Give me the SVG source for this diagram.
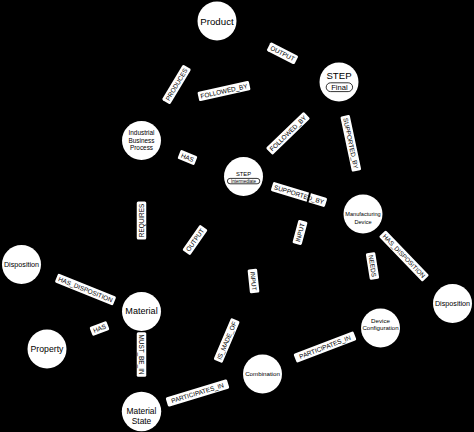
<svg xmlns="http://www.w3.org/2000/svg" width="474" height="432" viewBox="0 0 474 432">
<style>
.edge{stroke:#000;stroke-width:2;fill:none}
.lbl rect{fill:#fff;stroke:none}
.lbl text{font-family:"Liberation Sans",Arial,sans-serif;font-size:6.4px;fill:#000;text-anchor:middle}
.node circle{fill:#fff;stroke:none}
.node text{font-family:"Liberation Sans",Arial,sans-serif;fill:#000;text-anchor:middle}
.pill{fill:#fff;stroke:#000;stroke-width:0.8}
</style>
<rect width="474" height="432" fill="#000"/>
<g id="connectors">
<g id="edge-lines">
<line class="edge" x1="217" y1="21" x2="339" y2="82"/>
<line class="edge" x1="141.5" y1="140.5" x2="217" y2="21"/>
<path class="edge" d="M141.5,140.5 Q207.75,70.75 339,82"/>
<line class="edge" x1="243.5" y1="176.5" x2="339" y2="82"/>
<line class="edge" x1="339" y1="82" x2="363" y2="214"/>
<line class="edge" x1="141.5" y1="140.5" x2="243.5" y2="176.5"/>
<line class="edge" x1="243.5" y1="176.5" x2="363" y2="214"/>
<line class="edge" x1="141.5" y1="140.5" x2="141.5" y2="311.5"/>
<line class="edge" x1="243.5" y1="176.5" x2="141.5" y2="311.5"/>
<line class="edge" x1="262.5" y1="374" x2="243.5" y2="176.5"/>
<path class="edge" d="M262.5,374 Q251.4,338.25 141.5,311.5"/>
<line class="edge" x1="141.5" y1="411.5" x2="262.5" y2="374"/>
<line class="edge" x1="262.5" y1="374" x2="380.5" y2="328"/>
<line class="edge" x1="363" y1="214" x2="380.5" y2="328"/>
<line class="edge" x1="363" y1="214" x2="452.5" y2="303.5"/>
<line class="edge" x1="141.5" y1="311.5" x2="21.5" y2="264.5"/>
<line class="edge" x1="141.5" y1="311.5" x2="47" y2="349"/>
<line class="edge" x1="141.5" y1="311.5" x2="141.5" y2="411.5"/>
</g>
<g id="edge-labels">
<g class="lbl" transform="translate(282.5,53.3) rotate(27)"><rect x="-15.5" y="-4.75" width="31" height="9.5" rx="1.5"/><text y="2.3">OUTPUT</text></g>
<g class="lbl" transform="translate(176.5,84.5) rotate(-59)"><rect x="-20.5" y="-4.75" width="41" height="9.5" rx="1.5"/><text y="2.3">PRODUCES</text></g>
<g class="lbl" transform="translate(224,91) rotate(-12.6)"><rect x="-26.25" y="-4.75" width="52.5" height="9.5" rx="1.5"/><text y="2.3">FOLLOWED_BY</text></g>
<g class="lbl" transform="translate(288,133.3) rotate(-44)"><rect x="-26.25" y="-4.75" width="52.5" height="9.5" rx="1.5"/><text y="2.3">FOLLOWED_BY</text></g>
<g class="lbl" transform="translate(350.8,143.3) rotate(78)"><rect x="-28.2" y="-4.75" width="56.4" height="9.5" rx="1.5"/><text y="2.3">SUPPORTED_BY</text></g>
<g class="lbl" transform="translate(187.5,157.5) rotate(22)"><rect x="-9" y="-4.75" width="18" height="9.5" rx="1.5"/><text y="2.3">HAS</text></g>
<g class="lbl" transform="translate(299,194.5) rotate(17)"><rect x="-28.2" y="-4.75" width="56.4" height="9.5" rx="1.5"/><text y="2.3">SUPPORTED_BY</text></g>
<g class="lbl" transform="translate(141.5,220.5) rotate(-90)"><rect x="-19" y="-4.75" width="38" height="9.5" rx="1.5"/><text y="2.3">REQUIRES</text></g>
<g class="lbl" transform="translate(195,240) rotate(-55)"><rect x="-15.5" y="-4.75" width="31" height="9.5" rx="1.5"/><text y="2.3">OUTPUT</text></g>
<g class="lbl" transform="translate(253.5,281) rotate(84)"><rect x="-12" y="-4.75" width="24" height="9.5" rx="1.5"/><text y="2.3">INPUT</text></g>
<g class="lbl" transform="translate(226.7,340.5) rotate(-67)"><rect x="-22.6" y="-4.75" width="45.2" height="9.5" rx="1.5"/><text y="2.3">IS_MADE_OF</text></g>
<g class="lbl" transform="translate(197.5,393) rotate(-17)"><rect x="-32" y="-4.75" width="64" height="9.5" rx="1.5"/><text y="2.3">PARTICIPATES_IN</text></g>
<g class="lbl" transform="translate(325,347) rotate(-21)"><rect x="-32" y="-4.75" width="64" height="9.5" rx="1.5"/><text y="2.3">PARTICIPATES_IN</text></g>
<g class="lbl" transform="translate(372.5,266) rotate(81)"><rect x="-13.5" y="-4.75" width="27" height="9.5" rx="1.5"/><text y="2.3">NEEDS</text></g>
<g class="lbl" transform="translate(404,256) rotate(46)"><rect x="-31.3" y="-4.75" width="62.6" height="9.5" rx="1.5"/><text y="2.3">HAS_DISPOSITION</text></g>
<g class="lbl" transform="translate(85.5,289.5) rotate(22)"><rect x="-31.3" y="-4.75" width="62.6" height="9.5" rx="1.5"/><text y="2.3">HAS_DISPOSITION</text></g>
<g class="lbl" transform="translate(99.5,328.5) rotate(-21)"><rect x="-9" y="-4.75" width="18" height="9.5" rx="1.5"/><text y="2.3">HAS</text></g>
<g class="lbl" transform="translate(141.5,354.5) rotate(90)"><rect x="-22.3" y="-4.75" width="44.6" height="9.5" rx="1.5"/><text y="2.3">MUST_BE_IN</text></g>
</g>
<g id="edge-input-final">
<line class="edge" x1="262.5" y1="374" x2="339" y2="82"/>
<g class="lbl" transform="translate(300,232.5) rotate(-75)"><rect x="-12" y="-4.75" width="24" height="9.5" rx="1.5"/><text y="2.3">INPUT</text></g>
</g>
</g>
<g id="node-product" class="node"><circle cx="217" cy="21" r="19.5"/><text x="217" y="24.5" font-size="9.7">Product</text></g>
<g id="node-step-final" class="node"><circle cx="339" cy="82" r="19.5"/><text x="339" y="79.2" font-size="9.6">STEP</text><rect class="pill" x="326.2" y="82.8" width="26.4" height="8.8" rx="4.4"/><text x="339.4" y="90.1" font-size="7.6">Final</text></g>
<g id="node-ibp" class="node"><circle cx="141.5" cy="140.5" r="19.5"/><text x="141.5" y="135" font-size="6.4">Industrial</text><text x="141.5" y="142.6" font-size="6.4">Business</text><text x="141.5" y="150.3" font-size="6.4">Process</text></g>
<g id="node-step-intermediate" class="node"><circle cx="243.5" cy="176.5" r="19.5"/><text x="243.5" y="176" font-size="5.8">STEP</text><rect class="pill" x="227.4" y="178.4" width="32.4" height="5.4" rx="2.7"/><text x="243.6" y="182.6" font-size="4.5">Intermediate</text></g>
<g id="node-mfg-device" class="node"><circle cx="363" cy="214" r="19.5"/><text x="363" y="216" font-size="5.6">Manufacturing</text><text x="363" y="224" font-size="5.6">Device</text></g>
<g id="node-disposition-right" class="node"><circle cx="452.5" cy="303.5" r="19.5"/><text x="452.5" y="305.8" font-size="7.2">Disposition</text></g>
<g id="node-device-config" class="node"><circle cx="380.5" cy="328" r="19.5"/><text x="380.5" y="322.9" font-size="6.2">Device</text><text x="380.5" y="329.6" font-size="6.1">Configuration</text></g>
<g id="node-disposition-left" class="node"><circle cx="21.5" cy="264.5" r="19.5"/><text x="21.5" y="266.8" font-size="7.2">Disposition</text></g>
<g id="node-material" class="node"><circle cx="141.5" cy="311.5" r="19.5"/><text x="141.5" y="314" font-size="9.1">Material</text></g>
<g id="node-property" class="node"><circle cx="47" cy="349" r="19.5"/><text x="47" y="351.5" font-size="8.7">Property</text></g>
<g id="node-combination" class="node"><circle cx="262.5" cy="374" r="19.5"/><text x="262.5" y="376.2" font-size="6.2">Combination</text></g>
<g id="node-material-state" class="node"><circle cx="141.5" cy="411.5" r="19.7"/><text x="141.5" y="413.6" font-size="8.4">Material</text><text x="141.5" y="423.6" font-size="8.4">State</text></g>
</svg>
